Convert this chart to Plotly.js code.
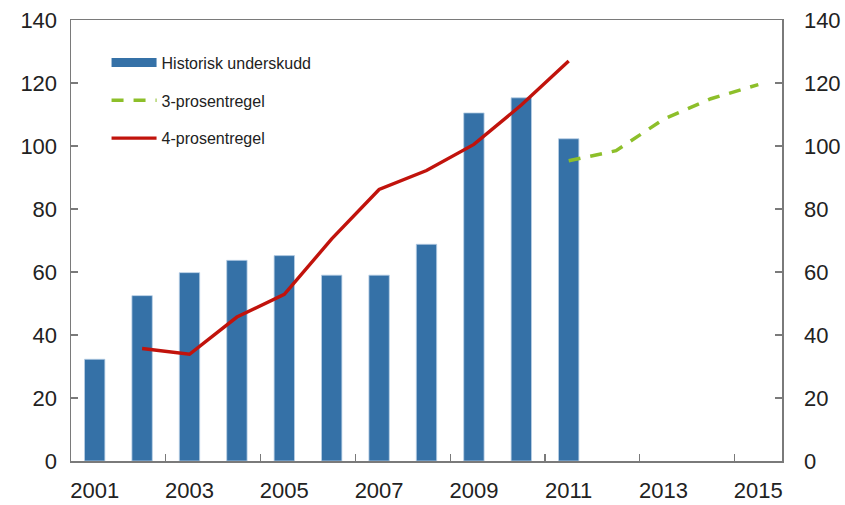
<!DOCTYPE html>
<html>
<head>
<meta charset="utf-8">
<script src="https://cdn.plot.ly/plotly-3.0.1.min.js"></script>
<style>html,body{margin:0;padding:0;background:#fff;}#chart{width:845px;height:505px;}</style>
</head>
<body>
<div id="chart"></div>
<script>
// Data
const barYears = [2001, 2002, 2003, 2004, 2005, 2006, 2007, 2008, 2009, 2010, 2011];
const historiskUnderskudd = [32.3, 52.5, 59.8, 63.7, 65.2, 59.0, 59.0, 68.8, 110.5, 115.3, 102.3];
const fireYears = [2002, 2003, 2004, 2005, 2006, 2007, 2008, 2009, 2010, 2011];
const fireProsent = [35.7, 33.9, 45.7, 52.9, 70.5, 86.2, 92.2, 100.5, 113.0, 127.0];
const treYears = [2011, 2012, 2013, 2014, 2015];
const treProsent = [95.3, 98.5, 108.5, 115.0, 119.5];
const labelYears = [2001, 2003, 2005, 2007, 2009, 2011, 2013, 2015];
const yTicks = [0, 20, 40, 60, 80, 100, 120, 140];
const boundaryTicks = [2002.5, 2004.5, 2006.5, 2008.5, 2010.5, 2012.5, 2014.5];

const FONT = 'Liberation Sans, Arial, sans-serif';
const AX = '#7a7a7a';
const BLUE = '#3571a7';

const traces = [
  {
    type: 'bar', x: barYears, y: historiskUnderskudd, name: 'Historisk underskudd',
    width: 0.43, marker: {color: BLUE, line: {color: '#b9cfe6', width: 0.8}},
    showlegend: false, hoverinfo: 'skip'
  },
  {
    // legend entry for the bars (wide rectangle key, as in the original)
    type: 'scatter', mode: 'lines', x: [null], y: [null], name: 'Historisk underskudd',
    line: {color: BLUE, width: 9}, legendgroup: 'a', hoverinfo: 'skip'
  },
  {
    type: 'scatter', mode: 'lines', x: treYears, y: treProsent, name: '3-prosentregel',
    line: {color: '#8dbf2a', width: 3.5, dash: '12px,10px'},
    legendgroup: 'b', yaxis: 'y2', hoverinfo: 'skip'
  },
  {
    type: 'scatter', mode: 'lines', x: fireYears, y: fireProsent, name: '4-prosentregel',
    line: {color: '#c1130c', width: 3.4},
    legendgroup: 'c', xaxis: 'x2', hoverinfo: 'skip'
  }
];

const layout = {
  width: 845, height: 505,
  margin: {l: 71, r: 63, t: 20, b: 44, pad: 0},
  paper_bgcolor: '#ffffff', plot_bgcolor: '#ffffff',
  font: {family: FONT, color: '#222222', size: 22},
  showlegend: true,
  legend: {
    x: 0.05, y: 0.942, xanchor: 'left', yanchor: 'top',
    bgcolor: 'rgba(0,0,0,0)', borderwidth: 0,
    font: {family: FONT, size: 16, color: '#222222'},
    traceorder: 'grouped', tracegroupgap: 14, itemwidth: 45
  },
  xaxis: {
    range: [2000.5, 2015.5], tickvals: labelYears, ticktext: labelYears.map(String),
    ticks: '', showgrid: false, zeroline: false,
    showline: true, linecolor: AX, linewidth: 1.5, mirror: true,
    ticklabelstandoff: 9, tickfont: {size: 22, family: FONT, color: '#222'}
  },
  xaxis2: {
    overlaying: 'x', anchor: 'y', side: 'bottom', matches: 'x',
    range: [2000.5, 2015.5], tickvals: boundaryTicks, ticks: 'inside', ticklen: 7,
    tickcolor: AX, tickwidth: 1.2, showticklabels: false, showgrid: false, zeroline: false, showline: false
  },
  yaxis: {
    range: [0, 140], tickvals: yTicks, ticks: 'inside', ticklen: 7, tickcolor: AX, tickwidth: 1.2,
    showgrid: false, zeroline: false, showline: true, linecolor: AX, linewidth: 1.5,
    ticklabelstandoff: 8, tickfont: {size: 22, family: FONT, color: '#222'}
  },
  yaxis2: {
    overlaying: 'y', side: 'right', anchor: 'x', range: [0, 140], tickvals: yTicks,
    ticks: 'inside', ticklen: 7, tickcolor: AX, tickwidth: 1.2,
    showgrid: false, zeroline: false, showline: true, linecolor: AX, linewidth: 1.5,
    ticklabelstandoff: 16, tickfont: {size: 22, family: FONT, color: '#222'}
  },
  bargap: 0
};

Plotly.newPlot('chart', traces, layout, {staticPlot: true, displayModeBar: false});
</script>
</body>
</html>
